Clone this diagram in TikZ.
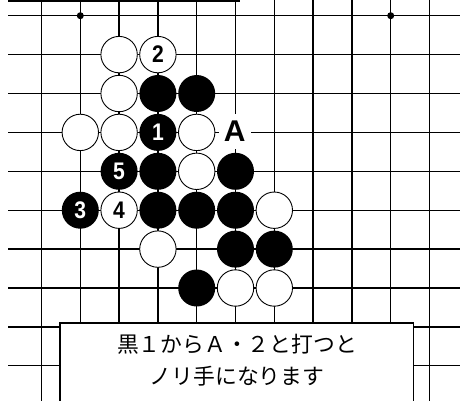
\documentclass[tikz,border=0pt]{standalone}
\usepackage{graphicx}
\usepackage{fontspec}
\setmainfont{Liberation Sans}
\newfontfamily\jpfont{Noto Sans CJK JP}
\newcommand\narrowtxt[1]{\scalebox{0.88}[1]{#1}}
\begin{document}
\begin{tikzpicture}[x=1pt,y=-1pt,
  gridline/.style={line width=1.25pt},
  stonefont/.style={font=\bfseries\fontsize{24}{24}\selectfont},
  bstone/.style={circle,fill=black,minimum size=37pt,inner sep=0pt,text=white,stonefont},
  wstone/.style={circle,draw=black,line width=0.9pt,fill=white,minimum size=36.4pt,inner sep=0pt,text=black,stonefont},
  star/.style={circle,fill=black,minimum size=7pt,inner sep=0pt},
  lbl/.style={fill=white,inner sep=0pt,minimum width=32pt,minimum height=35pt,font=\bfseries\fontsize{30}{30}\selectfont},
  textbox/.style={draw=black,line width=1.6pt,fill=white},
  caption/.style={align=center,font=\jpfont\fontsize{21.8}{32.5}\selectfont,inner sep=0pt}]
\useasboundingbox (0,0) rectangle (460,400);
\clip (0,0) rectangle (460,400);
\fill[white] (0,0) rectangle (460,400);
\draw[line width=1.5pt] (8,1) -- (240,1);
\begin{scope}[shift={(41.5pt,-15.7pt)},x=38.8pt,y=-38.9pt]
  \foreach \i in {0,...,10} \draw[gridline] (\i,-0.5) -- (\i,10);
  \foreach \j in {0,...,9} \draw[gridline] (-0.863,\j) -- (11,\j);
  \node[star] (h1) at (1,0) {};
  \node[star] (h2) at (9,0) {};
  % row 1
  \node[wstone] (w21) at (2,1) {};
  \node[wstone] (w31) at (3,1) {\narrowtxt{2}};
  % row 2
  \node[wstone] (w22) at (2,2) {};
  \node[bstone] (b32) at (3,2) {};
  \node[bstone] (b42) at (4,2) {};
  % row 3
  \node[wstone] (w13) at (1,3) {};
  \node[wstone] (w23) at (2,3) {};
  \node[bstone] (b33) at (3,3) {\narrowtxt{1}};
  \node[wstone] (w43) at (4,3) {};
  \node[lbl] (A) at (4.98,2.97) {A};
  % row 4
  \node[bstone] (b24) at (2,4) {\narrowtxt{5}};
  \node[bstone] (b34) at (3,4) {};
  \node[wstone] (w44) at (4,4) {};
  \node[bstone] (b54) at (5,4) {};
  % row 5
  \node[bstone] (b15) at (1,5) {\narrowtxt{3}};
  \node[wstone] (w25) at (2,5) {\narrowtxt{4}};
  \node[bstone] (b35) at (3,5) {};
  \node[bstone] (b45) at (4,5) {};
  \node[bstone] (b55) at (5,5) {};
  \node[wstone] (w65) at (6,5) {};
  % row 6
  \node[wstone] (w36) at (3,6) {};
  \node[bstone] (b56) at (5,6) {};
  \node[bstone] (b66) at (6,6) {};
  % row 7
  \node[bstone] (b47) at (4,7) {};
  \node[wstone] (w57) at (5,7) {};
  \node[wstone] (w67) at (6,7) {};
\end{scope}
\draw[textbox] (60,322.7) rectangle (413.3,420);
\node[caption] (cap) at (237,360) {黒１からＡ・２と打つと\\ノリ手になります};
\end{tikzpicture}
\end{document}
